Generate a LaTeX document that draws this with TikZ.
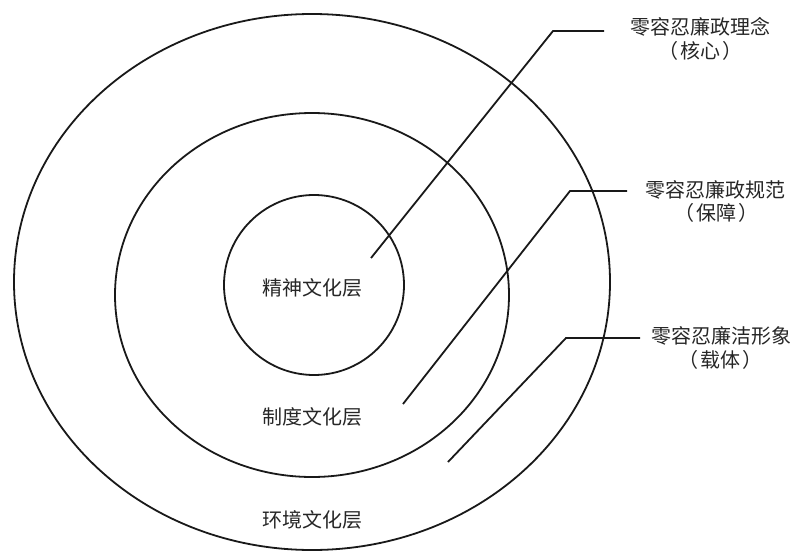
\documentclass[tikz,border=0pt]{standalone}
\usepackage{fontspec}
\newfontfamily\cjk{Noto Sans CJK SC}
\begin{document}
\begin{tikzpicture}[x=1pt,y=-1pt,
  ring/.style={draw=black!90,line width=1.8pt},
  lead/.style={draw=black!90,line width=1.8pt},
  lbl/.style={font=\cjk\fontsize{20}{24}\selectfont,text=black!85,inner sep=0pt,align=center}]
\useasboundingbox (0,0) rectangle (798,554);
\draw[ring] (312,282) ellipse [x radius=298, y radius=268];
\draw[ring] (312,295) ellipse [x radius=197, y radius=182];
\draw[ring] (314,285) circle [radius=90];
\node[lbl] (l1) at (312,288) {精神文化层};
\node[lbl] (l2) at (312,417) {制度文化层};
\node[lbl] (l3) at (312,520) {环境文化层};
\node[lbl] (t1a) at (700,27) {零容忍廉政理念};
\node[lbl] (t1b) at (700,51) {（\hspace{2pt}核心\hspace{2pt}）};
\node[lbl] (t2a) at (715,190) {零容忍廉政规范};
\node[lbl] (t2b) at (716,213) {（\hspace{2pt}保障\hspace{2pt}）};
\node[lbl] (t3a) at (721,336) {零容忍廉洁形象};
\node[lbl] (t3b) at (720,360) {（\hspace{2pt}载体\hspace{2pt}）};
\coordinate (s1) at (371,258);
\coordinate (c1) at (553,31);
\coordinate (e1) at (604,31);
\coordinate (s2) at (403,404);
\coordinate (c2) at (570,191);
\coordinate (e2) at (627,191);
\coordinate (s3) at (448,462);
\coordinate (c3) at (566,338);
\coordinate (e3) at (640,338);
\draw[lead] (s1) -- (c1) -- (e1);
\draw[lead] (s2) -- (c2) -- (e2);
\draw[lead] (s3) -- (c3) -- (e3);
\end{tikzpicture}
\end{document}
